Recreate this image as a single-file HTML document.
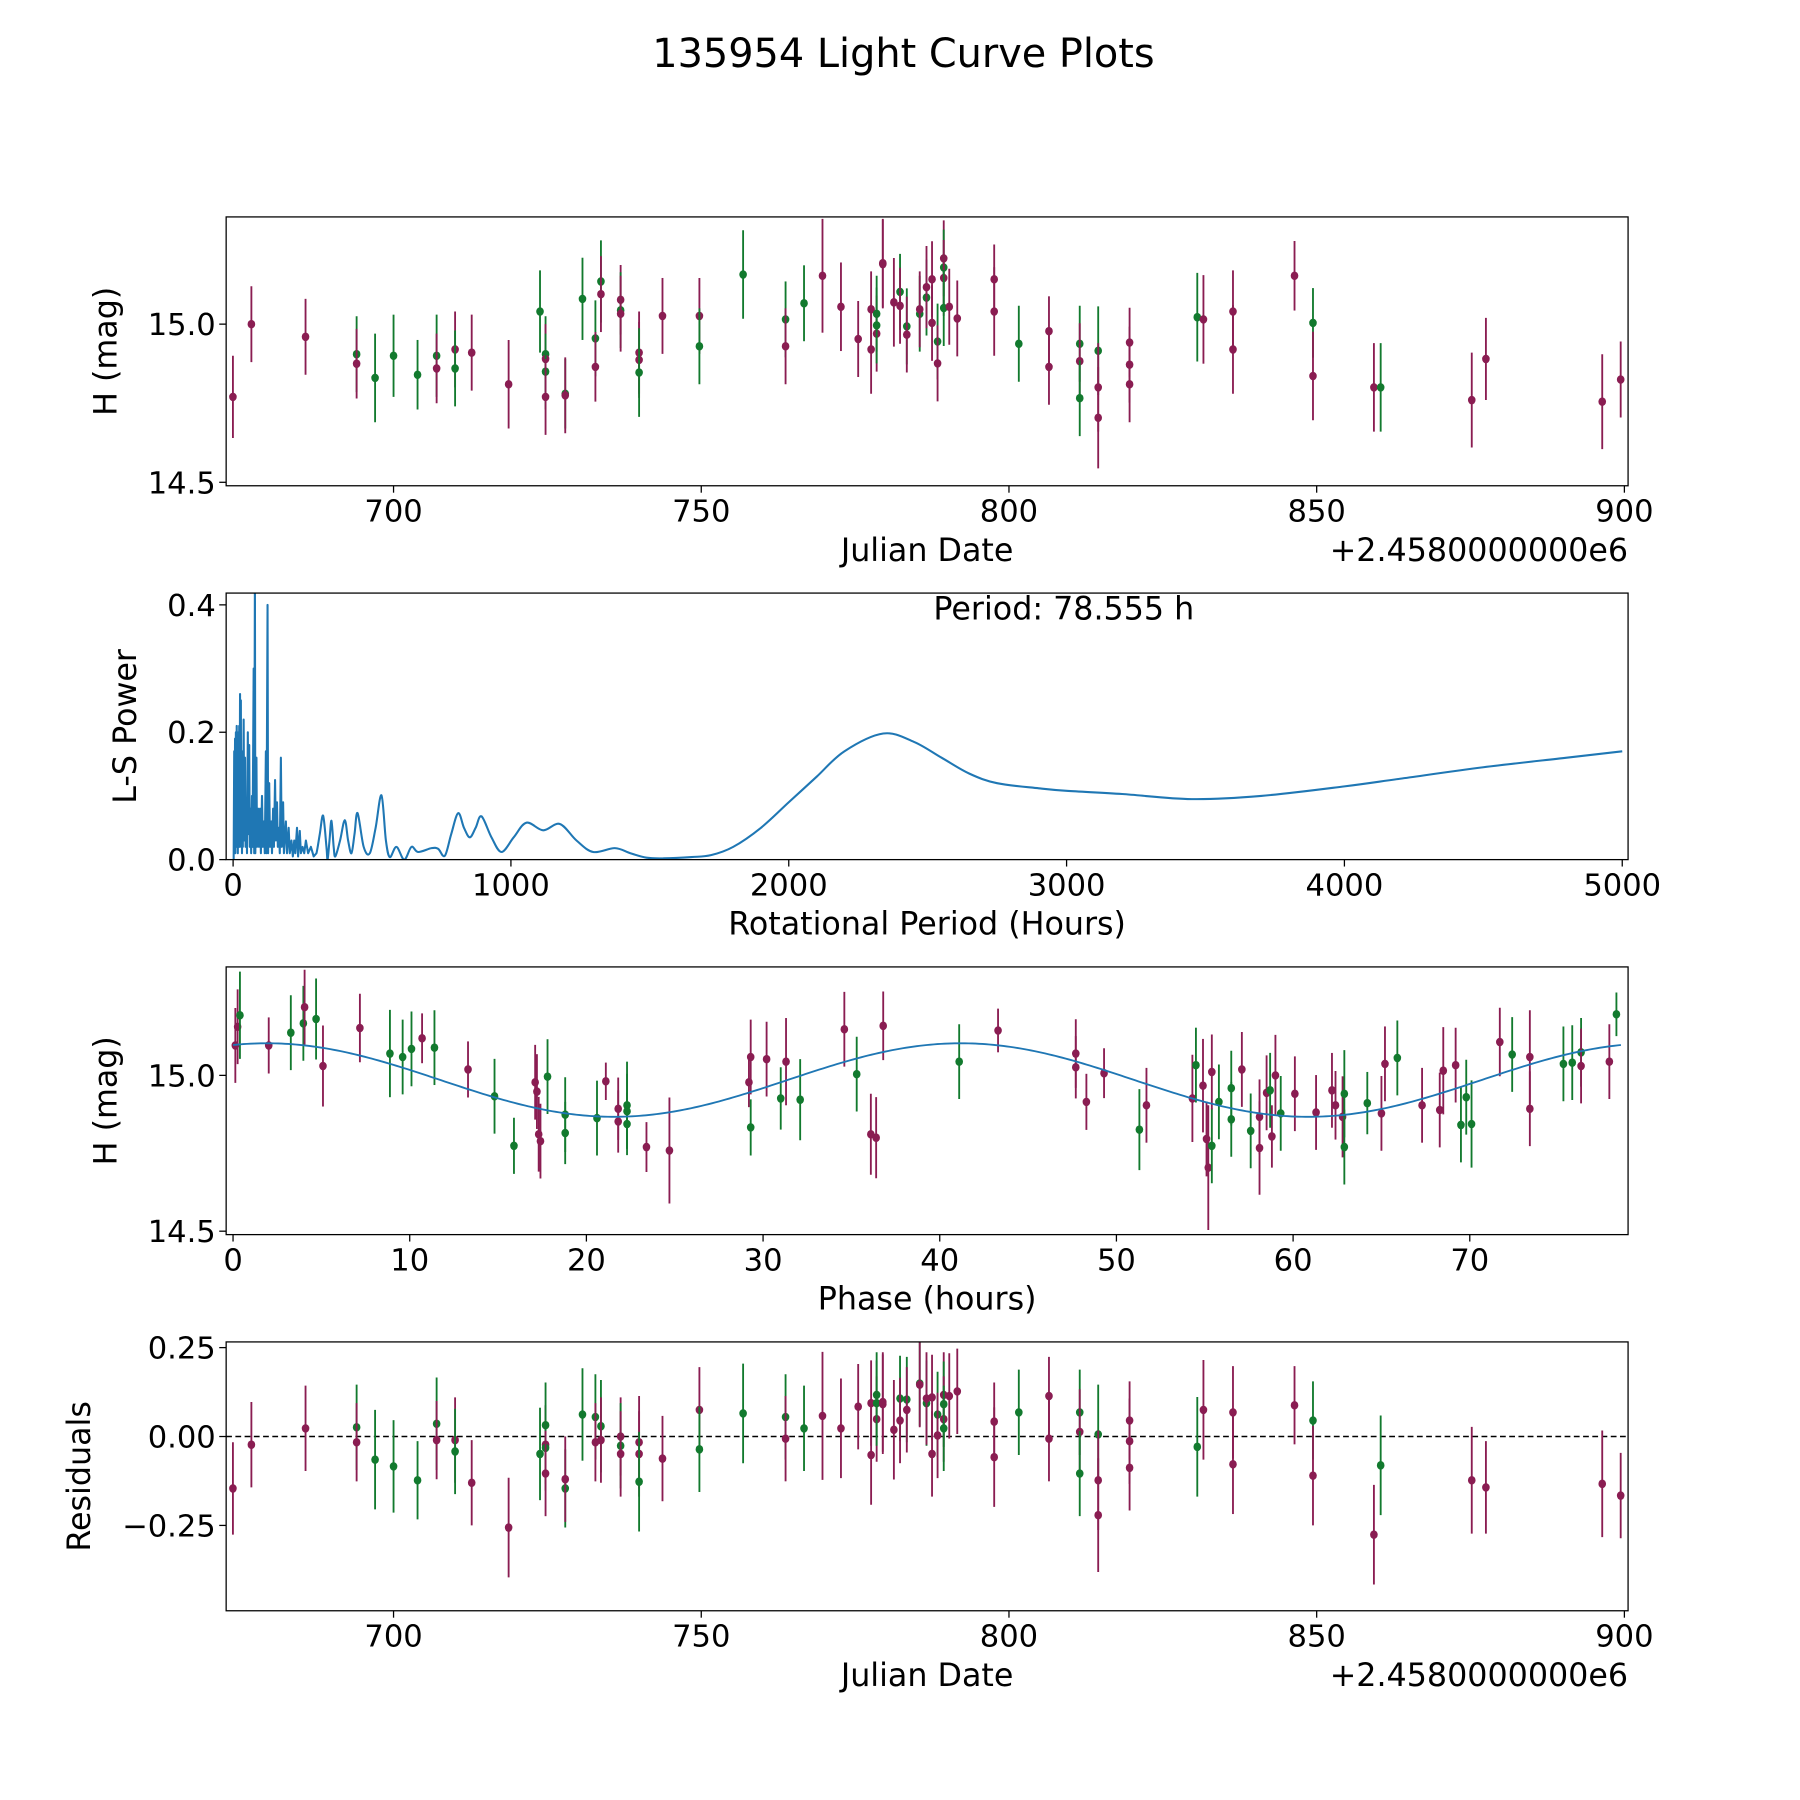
<!DOCTYPE html>
<html><head><meta charset="utf-8"><title>135954 Light Curve Plots</title>
<style>html,body{margin:0;padding:0;background:#fff}svg{display:block}text{font-family:"DejaVu Sans","Liberation Sans",sans-serif;fill:#000}</style>
</head><body>
<svg id="fig" xmlns="http://www.w3.org/2000/svg" width="1800" height="1800" viewBox="0 0 1560 1560">
<rect width="1560" height="1560" fill="#fff"/>
<text x="783" y="58" font-size="34.5" text-anchor="middle">135954 Light Curve Plots</text>
</svg>
<script>
// ---- Panel 1: light curve ----
const jd1 = [673.9,676.9,685.7,694,694,697,700,703.9,707,707,710,710,712.7,718.7,723.8,724.7,724.7,724.7,724.7,727.9,727.9,730.7,732.8,732.8,733.7,733.7,736.9,736.9,736.9,739.9,739.9,739.9,743.7,749.7,749.7,756.8,763.7,763.7,766.7,769.7,772.7,775.5,777.6,777.6,778.5,778.5,778.5,779.5,779.5,781.3,782.3,782.3,783.4,783.4,785.5,785.5,786.6,786.6,787.5,787.5,788.4,788.4,789.4,789.4,789.4,789.4,790.3,791.6,797.6,797.6,801.6,806.5,806.5,811.5,811.5,811.5,814.5,814.5,814.5,819.6,819.6,819.6,830.6,831.6,836.4,836.4,846.4,849.4,849.4,859.3,860.4,875.2,877.5,896.4,899.4];
const mag1 = [14.77,15.00,14.96,14.905,14.875,14.83,14.90,14.84,14.90,14.86,14.92,14.86,14.91,14.81,15.04,14.905,14.89,14.85,14.77,14.78,14.775,15.08,14.955,14.865,15.135,15.095,15.077,15.044,15.033,14.91,14.887,14.847,15.026,15.026,14.93,15.157,15.015,14.93,15.066,15.153,15.055,14.953,15.047,14.92,15.033,14.97,14.996,15.19,15.193,15.069,15.102,15.058,14.993,14.967,15.033,15.047,15.084,15.117,15.142,15.004,14.945,14.876,15.208,15.179,15.146,15.051,15.055,15.018,15.142,15.04,14.938,14.978,14.865,14.938,14.883,14.766,14.916,14.80,14.704,14.942,14.872,14.81,15.022,15.015,15.04,14.92,15.153,15.004,14.836,14.80,14.80,14.76,14.89,14.755,14.825];
const band1 = "mmmgmgggg mmgmmggmgmgmggmgmmgmmmgmmgggmgmmmmmgmgmmmgmgmgmgmmmgmmgmgmmmmgmmgmggmmmmmgmmmmgmmgmmmmmmmm";
const err1 = [0.13,0.12,0.12,0.12,0.11,0.14,0.13,0.11,0.13,0.11,0.12,0.12,0.12,0.14,0.13,0.12,0.11,0.12,0.12,0.11,0.12,0.13,0.12,0.11,0.13,0.12,0.11,0.12,0.12,0.13,0.12,0.14,0.12,0.12,0.12,0.14,0.12,0.12,0.12,0.18,0.14,0.12,0.12,0.14,0.12,0.12,0.12,0.14,0.14,0.14,0.12,0.12,0.12,0.12,0.12,0.12,0.12,0.13,0.12,0.12,0.12,0.12,0.12,0.12,0.12,0.12,0.12,0.12,0.11,0.14,0.12,0.11,0.12,0.12,0.12,0.12,0.14,0.14,0.16,0.11,0.12,0.12,0.14,0.14,0.13,0.14,0.11,0.11,0.14,0.14,0.14,0.15,0.13,0.15,0.12];
// ---- Panel 2: periodogram ----
const periods = [2,4,5,7,8,10,11,13,14,16,17,19,20,22,23,25,26,28,29,31,32,34,35,38,40,43,45,48,50,53,55,58,60,63,65,68,70,74,76,78.5,80,84,86,90,93,97,100,104,107,111,114,118,120,124,126,130,133,137,140,144,147,151,154,158,161,165,168,172,175,180,183,190,194,200,204,210,215,220,224,230,234,240,244,250,256,262,270,280,290,300,312,324,336,340,347,354,362,368,385,402,414,426,437,448,470,492,513,534,550,564,588,616,642,666,714,738,762,785,810,831,852,873,894,930,966,1010,1056,1116,1176,1236,1296,1374,1430,1488,1550,1650,1720,1800,1900,2000,2100,2200,2340,2450,2550,2650,2750,2900,3000,3200,3450,3700,4000,4200,4500,4800,5000];
const power = [0,0.17,0.02,0.19,0.01,0.2,0.02,0.21,0.03,0.18,0.01,0.2,0.03,0.21,0.02,0.26,0.05,0.25,0.02,0.17,0.01,0.12,0.02,0.22,0.03,0.16,0.02,0.08,0.01,0.2,0.04,0.18,0.02,0.08,0.01,0.1,0.02,0.3,0.01,0.45,0.01,0.16,0.02,0.08,0.02,0.08,0.01,0.1,0.02,0.06,0.01,0.17,0.01,0.40,0.01,0.12,0.02,0.06,0.01,0.08,0.02,0.125,0.03,0.09,0.02,0.05,0.01,0.16,0.02,0.09,0.01,0.06,0.01,0.05,0.01,0.03,0.005,0.03,0.01,0.05,0.005,0.045,0.01,0.02,0.01,0.03,0.01,0.02,0.005,0.01,0.04,0.069,0.02,0.0,0.03,0.061,0.02,0.005,0.03,0.062,0.03,0.01,0.04,0.073,0.02,0.01,0.05,0.101,0.03,0.004,0.02,0.0,0.02,0.012,0.018,0.017,0.006,0.04,0.073,0.05,0.035,0.05,0.068,0.035,0.012,0.035,0.058,0.046,0.056,0.03,0.012,0.018,0.01,0.003,0.002,0.004,0.007,0.02,0.05,0.09,0.13,0.17,0.198,0.185,0.16,0.135,0.12,0.112,0.108,0.103,0.095,0.1,0.115,0.127,0.145,0.16,0.17];
// ---- Panel 3: phased ----
const phase3 = [0.26,0.39,0.13,2.02,3.27,3.98,4.05,4.70,5.09,7.18,8.88,9.6,10.1,10.7,11.4,13.3,14.8,15.9,17.1,17.2,17.3,17.4,17.8,18.8,18.8,20.6,21.1,21.8,21.8,22.3,22.3,22.3,23.4,24.7,29.2,29.3,29.3,30.2,31.0,31.3,32.1,34.6,35.3,36.1,36.4,36.8,41.1,43.3,47.7,47.7,48.3,49.3,51.3,51.7,54.3,54.5,54.9,55.1,55.2,55.4,55.4,55.8,56.5,56.5,57.1,57.6,58.1,58.1,58.5,58.8,58.7,59.0,59.3,60.1,61.3,62.2,62.4,62.8,62.9,62.9,64.2,65.0,65.2,65.9,67.3,68.3,68.5,69.2,69.5,69.8,70.1,71.7,72.4,73.4,73.4,75.3,75.8,76.3,76.3,77.9,78.3];
const mag3 = [15.156,15.193,15.096,15.096,15.137,15.167,15.219,15.181,15.03,15.152,15.07,15.059,15.085,15.119,15.089,15.019,14.933,14.774,14.978,14.948,14.811,14.789,14.996,14.874,14.815,14.863,14.981,14.852,14.893,14.904,14.885,14.844,14.77,14.759,14.978,14.833,15.059,15.052,14.926,15.044,14.922,15.148,15.004,14.811,14.80,15.159,15.044,15.144,15.026,15.07,14.915,15.007,14.826,14.904,14.926,15.033,14.967,14.796,14.704,14.774,15.011,14.915,14.859,14.959,15.019,14.822,14.767,14.867,14.944,14.804,14.952,15.0,14.878,14.941,14.881,14.952,14.904,14.867,14.77,14.941,14.911,14.878,15.037,15.056,14.904,14.889,15.015,15.033,14.841,14.93,14.844,15.107,15.067,15.059,14.893,15.037,15.041,15.074,15.03,15.044,15.196];
const band3 = "mgmmggmgmmgggmgmggmmmmggggmmmgggmmmgmmgmgmgmmmgmmmmmgmmgmmmgmgggmgmmmmgmgmmmmmgggmmgmmmmgggmgmmgggmmgm";
const err3 = [0.12,0.14,0.12,0.09,0.12,0.12,0.12,0.13,0.13,0.11,0.14,0.12,0.12,0.08,0.12,0.09,0.12,0.09,0.12,0.12,0.12,0.12,0.12,0.12,0.1,0.12,0.06,0.1,0.1,0.14,0.12,0.1,0.08,0.17,0.08,0.09,0.12,0.12,0.1,0.14,0.13,0.12,0.12,0.13,0.13,0.11,0.12,0.07,0.1,0.11,0.09,0.08,0.13,0.12,0.14,0.12,0.15,0.12,0.2,0.12,0.12,0.12,0.12,0.12,0.12,0.12,0.15,0.12,0.12,0.1,0.12,0.13,0.12,0.12,0.12,0.12,0.11,0.13,0.12,0.14,0.1,0.12,0.12,0.12,0.12,0.12,0.14,0.12,0.12,0.12,0.14,0.11,0.12,0.15,0.12,0.12,0.12,0.11,0.12,0.12,0.07];
const modelMean = 14.985, modelAmp = 0.118, modelPeak = 41.2, modelHalfPeriod = 39.28;
// ---- Panel 4: residuals ----
const jd4 = [673.9,676.9,685.7,694,694,697,700,703.9,707,707,710,710,712.7,718.7,723.8,724.7,724.7,724.7,724.7,727.9,727.9,730.7,732.8,732.8,733.7,733.7,736.9,736.9,736.9,739.9,739.9,739.9,743.7,749.7,749.7,756.8,763.7,763.7,766.7,769.7,772.7,775.5,777.6,777.6,778.5,778.5,778.5,779.5,779.5,781.3,782.3,782.3,783.4,783.4,785.5,785.5,786.6,786.6,787.5,787.5,788.4,788.4,789.4,789.4,789.4,789.4,790.3,791.6,797.6,797.6,801.6,806.5,806.5,811.5,811.5,811.5,814.5,814.5,814.5,819.6,819.6,819.6,830.6,831.6,836.4,836.4,846.4,849.4,849.4,859.3,860.4,875.2,877.5,896.4,899.4];
const res4 = [-0.146,-0.023,0.023,0.026,-0.016,-0.065,-0.084,-0.123,0.036,-0.01,-0.01,-0.042,-0.13,-0.256,-0.049,0.032,-0.023,-0.032,-0.104,-0.146,-0.12,0.062,0.055,-0.016,0.029,-0.01,0,-0.026,-0.049,-0.016,-0.049,-0.127,-0.062,0.075,-0.036,0.065,0.055,-0.006,0.023,0.058,0.023,0.084,0.094,-0.052,0.117,0.049,0.094,0.091,0.097,0.019,0.107,0.045,0.104,0.075,0.149,0.146,0.094,0.107,0.11,-0.049,0.062,0.003,0.117,0.091,0.049,0.023,0.114,0.127,0.042,-0.058,0.068,0.114,-0.006,0.068,0.013,-0.104,0.006,-0.123,-0.221,0.045,-0.013,-0.088,-0.029,0.075,0.068,-0.078,0.088,0.045,-0.11,-0.276,-0.081,-0.123,-0.143,-0.133,-0.166];
const band4 = "mmmgmgggg mmgmmggmgmgmggmgmmgmmmgmmgggmgmmmmmgmgmmmgmgmgmgmmmgmmgmgmmmmgmmgmggmmmmmgmmmmgmmgmmmmmmmm";

const NS = "http://www.w3.org/2000/svg";
const svg = document.getElementById('fig');
const COL = {m:'#8a1d52', g:'#127a2e'};
const TICK_FS = 26.5, LABEL_FS = 27.5;
function mk(tag, attrs, parent){const e=document.createElementNS(NS,tag);for(const k in attrs)e.setAttribute(k,attrs[k]);(parent||svg).appendChild(e);return e;}
function lin(d0,d1,p0,p1){return v=>p0+(v-d0)*(p1-p0)/(d1-d0);}
function cleanBand(s){return s.replace(/ /g,'');}

function makeAxes(name, x0,y0,x1,y1, xd, yd, xticks, xlabs, yticks, ylabs, xlabel, ylabel, ylabelX, offset){
  const g = mk('g',{});
  
  
  const sx = lin(xd[0],xd[1],x0,x1), sy = lin(yd[0],yd[1],y1,y0);
  const cid = name+'-clip';
  const cp = mk('clipPath',{id:cid},g); mk('rect',{x:x0,y:y0,width:x1-x0,height:y1-y0},cp);
  const plot = mk('g',{'clip-path':`url(#${cid})`},g);
  
  
  xticks.forEach((t,i)=>{
    const x=sx(t);
    const tk=mk('line',{x1:x,x2:x,y1:y1,y2:y1+6,stroke:'#000','stroke-width':1.1},g);
    
    
    const tl=mk('text',{x:x,y:y1+31,'font-size':TICK_FS,'text-anchor':'middle'},g); tl.textContent=xlabs[i];
    
    
  });
  yticks.forEach((t,i)=>{
    const y=sy(t);
    const tk=mk('line',{x1:x0-6,x2:x0,y1:y,y2:y,stroke:'#000','stroke-width':1.1},g);
    
    
    const tl=mk('text',{x:x0-9,y:y+9.5,'font-size':TICK_FS,'text-anchor':'end'},g); tl.textContent=ylabs[i];
    
    
  });
  const xl=mk('text',{x:(x0+x1)/2,y:y1+65,'font-size':LABEL_FS,'text-anchor':'middle'},g); xl.textContent=xlabel;
  
  
  const yc=(y0+y1)/2;
  const yl=mk('text',{x:ylabelX,y:yc,'font-size':LABEL_FS,'text-anchor':'middle',transform:`rotate(-90 ${ylabelX} ${yc})`},g); yl.textContent=ylabel;
  
  
  if(offset){const ot=mk('text',{x:x1,y:y1+65,'font-size':LABEL_FS,'text-anchor':'end'},g); ot.textContent=offset;
    
    }
  const fr=mk('rect',{x:x0,y:y0,width:x1-x0,height:y1-y0,fill:'none',stroke:'#000','stroke-width':1.1},g);
  
  
  return {sx,sy,plot};
}
function errPoints(ax, xs, ys, errs, bands, label){
  const b = cleanBand(bands);
  xs.forEach((xv,i)=>{
    const c = COL[b[i]]||COL.m;
    const x=ax.sx(xv), y=ax.sy(ys[i]);
    const e=errs[i]!==undefined?errs[i]:0.12;
    const ln=mk('line',{x1:x,x2:x,y1:ax.sy(ys[i]+e),y2:ax.sy(ys[i]-e),stroke:c,'stroke-width':1.6},ax.plot);
    
    
    const pt=mk('ellipse',{cx:x,cy:y,rx:3.3,ry:3.7,fill:c},ax.plot);
    
    
  });
}

// Panel 1
const a1 = makeAxes('light-curve-panel',196,188,1411,421,[672.8,900.6],[14.489,15.339],
  [700,750,800,850,900],['700','750','800','850','900'],[14.5,15.0],['14.5','15.0'],'Julian Date','H (mag)',101,'+2.4580000000e6');
errPoints(a1, jd1, mag1, err1, band1, 'observation');

// Panel 2
const a2 = makeAxes('periodogram-panel',196,514,1411,745,[-25,5021],[0,0.4185],
  [0,1000,2000,3000,4000,5000],['0','1000','2000','3000','4000','5000'],[0,0.2,0.4],['0.0','0.2','0.4'],'Rotational Period (Hours)','L-S Power',118,null);
// polyline for the dense part, Catmull-Rom smoothing for the broad part
const P2 = periods.map((p,i)=>[a2.sx(p), a2.sy(power[i])]);
let d2='M'+P2[0][0].toFixed(2)+' '+P2[0][1].toFixed(2);
for(let i=1;i<P2.length;i++){
  if(periods[i] <= 300){ d2+='L'+P2[i][0].toFixed(2)+' '+P2[i][1].toFixed(2); continue; }
  const p0=P2[Math.max(0,i-2)], p1=P2[i-1], p2=P2[i], p3=P2[Math.min(P2.length-1,i+1)];
  const c1x=p1[0]+(p2[0]-p0[0])/6, c1y=p1[1]+(p2[1]-p0[1])/6;
  const c2x=p2[0]-(p3[0]-p1[0])/6, c2y=p2[1]-(p3[1]-p1[1])/6;
  d2+='C'+c1x.toFixed(2)+' '+Math.min(c1y,745).toFixed(2)+' '+c2x.toFixed(2)+' '+Math.min(c2y,745).toFixed(2)+' '+p2[0].toFixed(2)+' '+p2[1].toFixed(2);
}
const ls=mk('path',{d:d2,fill:'none',stroke:'#1f77b4','stroke-width':1.8,'stroke-linejoin':'round'},a2.plot);


const ann=mk('text',{x:922,y:537,'font-size':LABEL_FS,'text-anchor':'middle'});
ann.textContent='Period: 78.555 h';



// Panel 3
const a3 = makeAxes('phased-curve-panel',196,838,1411,1070,[-0.39,78.96],[14.489,15.348],
  [0,10,20,30,40,50,60,70],['0','10','20','30','40','50','60','70'],[14.5,15.0],['14.5','15.0'],'Phase (hours)','H (mag)',101,null);
errPoints(a3, phase3, mag3, err3, band3, 'phased');
let d3='';
for(let i=0;i<=400;i++){const t=i*78.555/400;const m=modelMean+modelAmp*Math.cos(2*Math.PI*(t-modelPeak)/modelHalfPeriod);
  d3+=(i?'L':'M')+a3.sx(t).toFixed(2)+' '+a3.sy(m).toFixed(2);}
const fit=mk('path',{d:d3,fill:'none',stroke:'#1f77b4','stroke-width':1.6},a3.plot);



// Panel 4
const a4 = makeAxes('residuals-panel',196,1163,1411,1396,[672.8,900.6],[-0.490,0.266],
  [700,750,800,850,900],['700','750','800','850','900'],[0.25,0,-0.25],['0.25','0.00','\u22120.25'],'Julian Date','Residuals',78,'+2.4580000000e6');
const zl=mk('line',{x1:196,x2:1411,y1:a4.sy(0),y2:a4.sy(0),stroke:'#000','stroke-width':1.3,'stroke-dasharray':'5,3'},a4.plot);


errPoints(a4, jd4, res4, err1, band4, 'residual');
</script>
</body></html>
